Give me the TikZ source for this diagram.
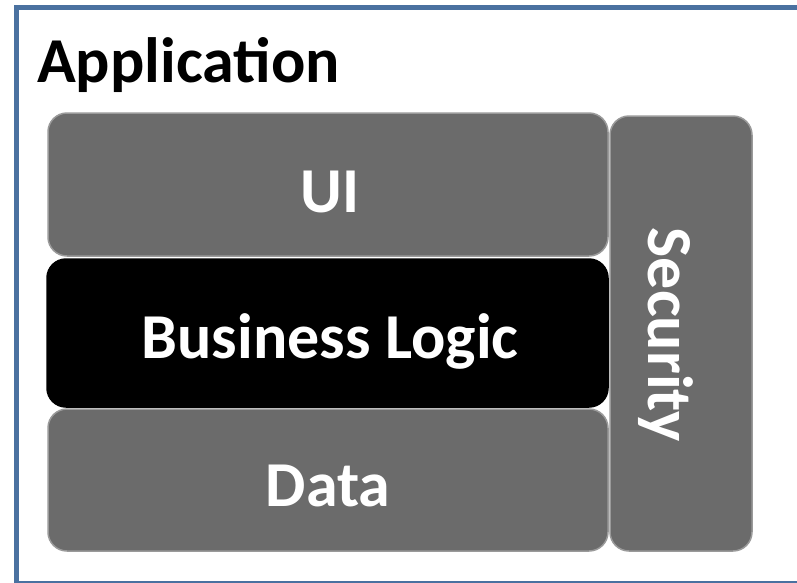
\documentclass[tikz,border=0pt]{standalone}
\usepackage{fontspec}
\setmainfont{Carlito}
\definecolor{frameblue}{HTML}{4A71A0}
\definecolor{boxgray}{HTML}{6B6B6B}
\definecolor{edgegray}{HTML}{9A9A9A}
\begin{document}
\begin{tikzpicture}[x=1pt,y=-1pt,
  layer/.style={draw=edgegray, line width=1.5pt, fill=boxgray, rounded corners=19pt},
  lbl/.style={text=white, font=\bfseries\fontsize{64}{64}\selectfont, inner sep=0pt}]
\useasboundingbox (0,0) rectangle (797,582);
\clip (0,0) rectangle (797,582);
\draw[frameblue, line width=5pt] (16.5,7.5) rectangle (840,583);
\node[anchor=base west, inner sep=0pt, font=\bfseries\fontsize{64}{64}\selectfont] (app) at (37,82) {Application};
\draw[layer] (48,113) rectangle (608,256);
\draw[layer, fill=black, draw=black] (47,259) rectangle (608,407);
\draw[layer] (48,409) rectangle (608,551);
\draw[layer] (610,116) rectangle (752,551);
\node[lbl, anchor=base] (ui) at (330,212) {UI};
\node[lbl, anchor=base] (bl) at (330,358) {Business Logic};
\node[lbl, anchor=base] (data) at (328,506) {Data};
\node[lbl, rotate=-90, anchor=base] (sec) at (648,335) {Security};
\end{tikzpicture}
\end{document}
